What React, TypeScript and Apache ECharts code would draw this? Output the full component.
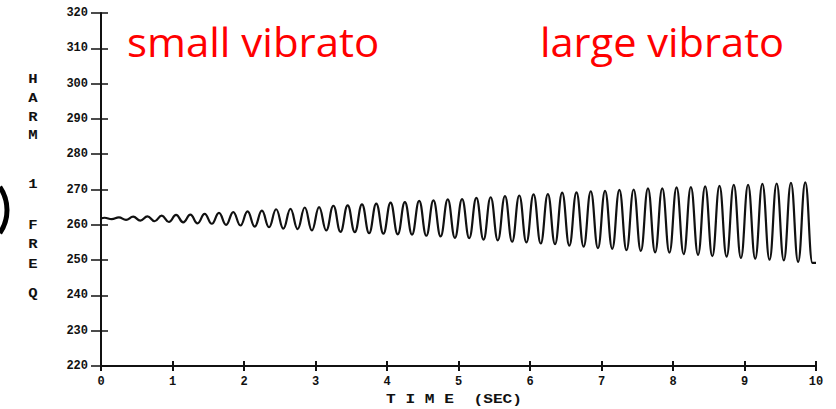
import React, { useEffect, useRef } from "react";
import * as echarts from "echarts";

// Axis ranges (Hz and seconds)
const freqMin = 220;
const freqMax = 320;
const freqStep = 10;
const timeMin = 0;
const timeMax = 10;
const timeStep = 1;

// Pitch track of harmonic 1: onset, vibrato crests and dips, and offset
const onsetPoint: [number, number] = [0, 261.8];
const offsetPoint: [number, number] = [10, 249.2];

const peakTimes = [
  0.05, 0.25, 0.45, 0.65, 0.85, 1.05, 1.25, 1.45, 1.65, 1.85,
  2.05, 2.25, 2.45, 2.65, 2.85, 3.05, 3.25, 3.45, 3.65, 3.85,
  4.05, 4.25, 4.45, 4.65, 4.85, 5.05, 5.25, 5.45, 5.65, 5.85,
  6.05, 6.25, 6.45, 6.65, 6.85, 7.05, 7.25, 7.45, 7.65, 7.85,
  8.05, 8.25, 8.45, 8.65, 8.85, 9.05, 9.25, 9.45, 9.65, 9.85,
];
const peakHz = [
  262.0, 262.1, 262.3, 262.4, 262.6, 262.8, 262.9, 263.1, 263.4, 263.6,
  263.8, 264.0, 264.4, 264.5, 264.9, 265.0, 265.4, 265.5, 265.8, 266.0,
  266.3, 266.4, 266.8, 266.9, 267.2, 267.3, 267.6, 267.8, 268.1, 268.3,
  268.6, 268.7, 269.1, 269.2, 269.5, 269.6, 269.9, 270.0, 270.3, 270.3,
  270.6, 270.7, 270.9, 271.0, 271.3, 271.3, 271.6, 271.7, 271.9, 272.0,
];
const troughTimes = [
  0.15, 0.35, 0.55, 0.75, 0.95, 1.15, 1.35, 1.55, 1.75, 1.95,
  2.15, 2.35, 2.55, 2.75, 2.95, 3.15, 3.35, 3.55, 3.75, 3.95,
  4.15, 4.35, 4.55, 4.75, 4.95, 5.15, 5.35, 5.55, 5.75, 5.95,
  6.15, 6.35, 6.55, 6.75, 6.95, 7.15, 7.35, 7.55, 7.75, 7.95,
  8.15, 8.35, 8.55, 8.75, 8.95, 9.15, 9.35, 9.55, 9.75, 9.95,
];
const troughHz = [
  261.6, 261.4, 261.2, 261.0, 260.8, 260.7, 260.4, 260.3, 260.0, 259.8,
  259.5, 259.3, 258.9, 258.8, 258.4, 258.4, 258.0, 257.9, 257.6, 257.5,
  257.3, 257.2, 256.9, 256.7, 256.3, 256.2, 255.8, 255.6, 255.2, 255.0,
  254.7, 254.5, 254.1, 253.8, 253.4, 253.2, 252.8, 252.6, 252.2, 252.1,
  251.7, 251.5, 251.1, 251.0, 250.6, 250.4, 250.1, 249.9, 249.5, 249.2,
];

// Stacked letters of the vertical axis title
const yTitleLetters = ["H", "A", "R", "M", "1", "F", "R", "E", "Q"];
const xTitle = "T I M E  (SEC)";
const leftNote = "small vibrato";
const rightNote = "large vibrato";

const MONO = "'Liberation Mono', 'DejaVu Sans Mono', monospace";
const NOTE_FONT = "'Open Sans', 'Noto Sans', sans-serif";
const INK = "#111";

export default function App() {
  const ref = useRef<HTMLDivElement>(null);

  useEffect(() => {
    if (!ref.current) return;
    const chart = echarts.init(ref.current, null, { renderer: "svg" });

    const track: [number, number][] = [onsetPoint];
    for (let i = 0; i < peakTimes.length; i++) {
      track.push([peakTimes[i], peakHz[i]]);
      track.push([troughTimes[i], troughHz[i]]);
    }
    track.push(offsetPoint);

    const letterY = [79, 98, 117, 135, 184, 225, 244, 264, 293];

    const axisLabel = {
      fontFamily: MONO,
      fontWeight: "bold" as const,
      fontSize: 12,
      color: INK,
    };

    const noteStyle = (text: string) => ({
      text,
      fontFamily: NOTE_FONT,
      fontSize: 40,
      fill: "#ff0000",
      textAlign: "left",
      textVerticalAlign: "middle",
    });

    chart.setOption({
      animation: false,
      backgroundColor: "#fff",
      grid: { left: 101, right: 20, top: 13, bottom: 43, containLabel: false },
      xAxis: [
        {
          type: "value",
          min: timeMin,
          max: timeMax,
          interval: timeStep,
          splitLine: { show: false },
          axisLine: { show: true, onZero: false, lineStyle: { color: INK, width: 2 } },
          axisTick: { show: true, inside: false, length: 5, lineStyle: { color: INK, width: 2 } },
          axisLabel: { ...axisLabel, margin: 10 },
        },
        {
          type: "value",
          position: "bottom",
          min: timeMin,
          max: timeMax,
          interval: timeStep,
          splitLine: { show: false },
          axisLine: { show: false },
          axisTick: { show: true, inside: true, length: 5, lineStyle: { color: INK, width: 2 } },
          axisLabel: { show: false },
        },
      ],
      yAxis: [
        {
          type: "value",
          min: freqMin,
          max: freqMax,
          interval: freqStep,
          splitLine: { show: false },
          axisLine: { show: true, onZero: false, lineStyle: { color: INK, width: 2 } },
          axisTick: { show: true, inside: false, length: 10, lineStyle: { color: INK, width: 1.5 } },
          axisLabel: { ...axisLabel, margin: 13 },
        },
        {
          type: "value",
          position: "left",
          min: freqMin,
          max: freqMax,
          interval: freqStep,
          splitLine: { show: false },
          axisLine: { show: false },
          axisTick: { show: true, inside: true, length: 7, lineStyle: { color: INK, width: 1.5 } },
          axisLabel: { show: false },
        },
      ],
      series: [
        {
          type: "line",
          data: track,
          symbol: "none",
          smooth: 0.45,
          smoothMonotone: "x",
          lineStyle: { color: INK, width: 2.2 },
          clip: false,
        },
      ],
      graphic: [
        ...yTitleLetters.map((ch, i) => ({
          type: "text",
          x: 33,
          y: letterY[i],
          scaleX: 1.2,
          style: {
            text: ch,
            fontFamily: MONO,
            fontWeight: "bold",
            fontSize: 13,
            fill: INK,
            textAlign: "center",
            textVerticalAlign: "middle",
          },
        })),
        {
          type: "text",
          x: 386,
          y: 400,
          scaleX: 1.35,
          style: {
            text: xTitle,
            fontFamily: MONO,
            fontWeight: "bold",
            fontSize: 12,
            fill: INK,
            textAlign: "left",
            textVerticalAlign: "middle",
          },
        },
        { type: "text", x: 127, y: 41, scaleX: 1.05, style: noteStyle(leftNote) },
        { type: "text", x: 540, y: 41, scaleX: 1.04, style: noteStyle(rightNote) },
        // bracket edge at the left border
        {
          type: "arc",
          shape: { cx: -34, cy: 210, r: 41, startAngle: -0.6, endAngle: 0.6 },
          style: { stroke: "#000", lineWidth: 5, fill: "none" },
        },
      ],
    });

    return () => chart.dispose();
  }, []);

  return (
    <div
      ref={ref}
      style={{ position: "fixed", left: 0, top: 0, width: 836, height: 409, background: "#fff" }}
    />
  );
}
